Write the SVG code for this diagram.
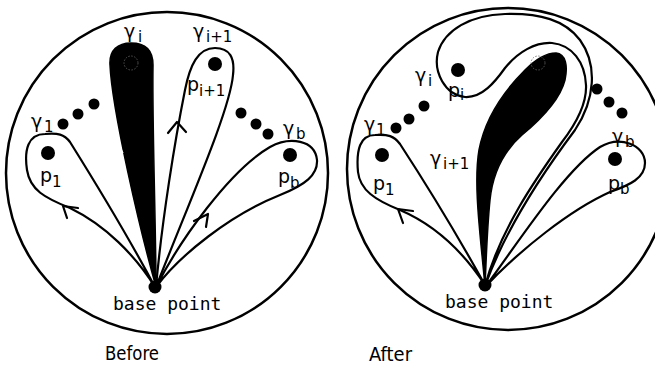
<svg xmlns="http://www.w3.org/2000/svg" width="655" height="365" viewBox="0 0 655 365">
<style>
.frame{fill:none;stroke:#000;stroke-width:2.5}
.loop{fill:none;stroke:#000;stroke-width:2.2;stroke-linejoin:round}
.solid{fill:#000;stroke:#000;stroke-width:1.5}
.arr{fill:none;stroke:#000;stroke-width:2.2;stroke-linecap:round;stroke-linejoin:round}
.dot{fill:#000}
.g{font-family:"DejaVu Sans",sans-serif;font-size:19px;fill:#000}
.s{font-family:"DejaVu Sans",sans-serif;font-size:15px;fill:#000}
.bp{font-family:"DejaVu Sans Mono",monospace;font-size:18px;fill:#000}
.cap{font-family:"DejaVu Sans",sans-serif;font-size:19px;fill:#000}
.faint{fill:none;stroke:#666;stroke-width:0.8;stroke-dasharray:1.5 1.5}
</style>
<rect width="655" height="365" fill="#fff"/>

<!-- BEFORE -->
<g id="before">
<circle id="disk-before" class="frame" cx="167" cy="173" r="161"/>
<g id="connectors-before">
<path id="loop1-before" class="loop" d="M155,287 C135,255 105,225 70,208 C45,198 30,190 27,170 C24,150 28,134 45,134 C58,133 64,134 70,142 C100,190 130,240 155,287 Z"/>
<path id="loopi-before" class="solid" d="M156,287 C140,230 112,110 110,65 C109,50 118,43 131,43 C146,43 153,50 153,65 C152,120 156,230 156,287 Z"/>
<path id="loopi1-before" class="loop" d="M156,287 C162,220 175,140 185,90 C190,65 198,48 215,48 C230,48 235,58 233,75 C230,110 190,200 156,287 Z"/>
<path id="loopb-before" class="loop" d="M156,287 C180,240 230,170 270,147 C290,136 315,140 317,160 C318,175 305,185 280,195 C230,215 180,255 156,287 Z"/>
<polyline class="arr" points="67,218 63,206 78,208"/>
<polyline class="arr" points="168,133 177,122 186,132"/>
<polyline class="arr" points="194,221 208,214 206,227"/>
<polyline points="116,154 119,146 123,153" fill="none" stroke="#fff" stroke-width="1.5"/>
<circle class="faint" cx="131" cy="63" r="7"/>
</g>
<g id="base-before"><circle class="dot" cx="155" cy="287" r="6.5"/><text class="bp" x="113" y="310">base point</text></g>
<g id="p1-before"><circle class="dot" cx="48" cy="153" r="7"/><text class="g" x="40" y="182">p</text><text class="s" x="52" y="187">1</text></g>
<g id="pi1-before"><circle class="dot" cx="215" cy="64" r="7"/><text class="g" x="187" y="91">p</text><text class="s" x="199" y="96">i+1</text></g>
<g id="pb-before"><circle class="dot" cx="290" cy="155" r="7"/><text class="g" x="278" y="183">p</text><text class="s" x="290" y="188">b</text></g>
<g id="labels-before">
<text class="g" x="124" y="38">γ</text><text class="s" x="138" y="42">i</text>
<text class="g" x="193" y="38">γ</text><text class="s" x="206" y="42">i+1</text>
<text class="g" x="31" y="128">γ</text><text class="s" x="44" y="132">1</text>
<text class="g" x="283" y="135">γ</text><text class="s" x="296" y="139">b</text>
</g>
<g id="dots-before">
<circle class="dot" cx="63" cy="124" r="5.5"/><circle class="dot" cx="78" cy="114" r="5.5"/><circle class="dot" cx="94" cy="104" r="5.5"/>
<circle class="dot" cx="241" cy="113" r="5.5"/><circle class="dot" cx="256" cy="124" r="5.5"/><circle class="dot" cx="268" cy="134" r="5.5"/>
</g>
<text class="cap" x="105" y="360" textLength="54" lengthAdjust="spacingAndGlyphs">Before</text>
</g>

<!-- AFTER -->
<g id="after">
<circle id="disk-after" class="frame" cx="508" cy="169" r="161"/>
<g id="connectors-after">
<path id="loop1-after" class="loop" d="M485,285 C462,250 435,225 400,210 C375,200 360,190 358,172 C356,150 360,135 375,135 C388,134 394,136 400,144 C430,190 460,240 485,285 Z"/>
<path id="loopi1-after" class="solid" d="M485,287 C481,240 473,185 479,150 C485,118 505,90 525,70 C537,58 548,53 556,53 C566,54 568,66 565,80 C560,100 540,120 522,135 C505,150 493,170 490,200 C487,230 486,265 485,287 Z"/>
<path id="loopi-after" class="loop" d="M485,286 C505,230 545,170 575,130 C595,100 598,65 580,40 C565,20 540,13 505,14 C470,15 445,30 438,52 C433,72 445,95 465,97 C482,98 495,82 505,68 C518,52 535,42 552,43 C572,45 585,62 586,85 C587,105 575,125 562,142 C535,180 500,230 485,286 Z"/>
<path id="loopb-after" class="loop" d="M486,286 C520,240 565,170 600,147 C620,135 645,145 645,163 C645,178 630,185 610,192 C570,210 520,250 486,286 Z"/>
<polyline class="arr" points="403,223 398,209 413,211"/>
<circle class="faint" cx="538" cy="63" r="7"/>
</g>
<g id="base-after"><circle class="dot" cx="485" cy="285" r="6.5"/><text class="bp" x="445" y="308">base point</text></g>
<g id="p1-after"><circle class="dot" cx="382" cy="155" r="7"/><text class="g" x="373" y="190">p</text><text class="s" x="385" y="195">1</text></g>
<g id="pi-after"><circle class="dot" cx="458" cy="70" r="7"/><text class="g" x="448" y="97">p</text><text class="s" x="460" y="100">i</text></g>
<g id="pb-after"><circle class="dot" cx="615" cy="159" r="7"/><text class="g" x="608" y="190">p</text><text class="s" x="620" y="194">b</text></g>
<g id="labels-after">
<text class="g" x="415" y="82">γ</text><text class="s" x="428" y="86">i</text>
<text class="g" x="430" y="165">γ</text><text class="s" x="443" y="169">i+1</text>
<text class="g" x="364" y="131">γ</text><text class="s" x="376" y="135">1</text>
<text class="g" x="612" y="143">γ</text><text class="s" x="625" y="147">b</text>
</g>
<g id="dots-after">
<circle class="dot" cx="396" cy="128" r="5.5"/><circle class="dot" cx="409" cy="119" r="5.5"/><circle class="dot" cx="424" cy="106" r="5.5"/>
<circle class="dot" cx="597" cy="89" r="5.5"/><circle class="dot" cx="609" cy="102" r="5.5"/><circle class="dot" cx="622" cy="113" r="5.5"/>
</g>
<text class="cap" x="369" y="361" textLength="43" lengthAdjust="spacingAndGlyphs">After</text>
</g>
</svg>
